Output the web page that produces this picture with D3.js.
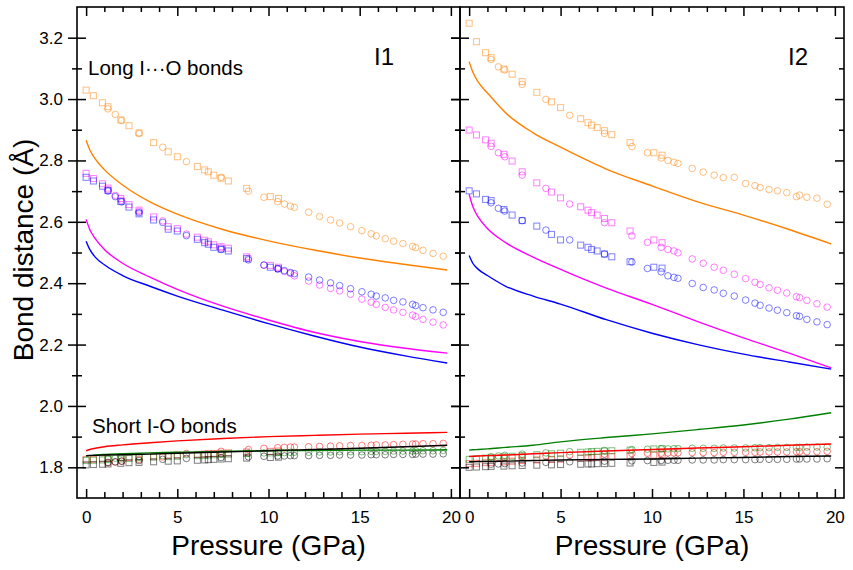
<!DOCTYPE html>
<html>
<head>
<meta charset="utf-8">
<script src="https://cdn.jsdelivr.net/npm/d3@7"></script>
<style>
  body { margin: 0; background: #fff; }
  svg { font-family: "Liberation Sans", Arial, sans-serif; }
</style>
</head>
<body>
<script>
// set dimensions
const width = 853
const height = 570
const plotTop = 7
const plotBottom = 498
const panelEdges = [77, 460, 844]

// pressures (GPa)
const pLine = [0, 0.2, 0.5, 1, 2, 3.5, 5, 7.5, 10, 12.5, 15, 17.5, 19.8]
const pSquares = [0, 0.4, 0.9, 1.2, 1.9, 2.35, 2.9, 3.7, 4.5, 5.0, 6.1, 6.5, 6.7, 7.0, 7.4, 7.8, 8.8, 10.1, 10.55]
const pCircles = [1.2, 1.6, 1.95, 2.9, 4.2, 5.5, 7.4, 8.9, 9.75, 10.5, 10.87, 11.2, 11.42, 12.2, 12.8, 13.4, 13.9, 14.5, 15.12, 15.63, 15.91, 16.4, 16.86, 17.37, 17.9, 18.07, 18.47, 19.02, 19.58]

const xTicks = [0, 5, 10, 15, 20]
const xMinor = [1, 2, 3, 4, 6, 7, 8, 9, 11, 12, 13, 14, 16, 17, 18, 19]
const yTicks = [1.8, 2.0, 2.2, 2.4, 2.6, 2.8, 3.0, 3.2]
const yMinor = [1.9, 2.1, 2.3, 2.5, 2.7, 2.9, 3.1]
const panelNames = ['I1', 'I2']

// ---- I1 : calculated curves
const i1LineOrange = [2.866, 2.835, 2.805, 2.77, 2.72, 2.665, 2.625, 2.575, 2.538, 2.508, 2.482, 2.461, 2.443]
const i1LineMagenta = [2.608, 2.575, 2.545, 2.51, 2.465, 2.42, 2.38, 2.325, 2.28, 2.24, 2.21, 2.188, 2.172]
const i1LineBlue = [2.537, 2.51, 2.485, 2.46, 2.425, 2.39, 2.358, 2.312, 2.268, 2.228, 2.192, 2.163, 2.14]
const i1LineRed = [1.854, 1.858, 1.862, 1.867, 1.873, 1.88, 1.886, 1.894, 1.9, 1.904, 1.908, 1.911, 1.914]
const i1LineGreen = [1.837, 1.838, 1.84, 1.842, 1.844, 1.847, 1.849, 1.852, 1.854, 1.855, 1.856, 1.856, 1.857]
const i1LineBlack = [1.838, 1.839, 1.839, 1.84, 1.841, 1.843, 1.846, 1.85, 1.854, 1.858, 1.862, 1.867, 1.872]

// ---- I1 : experiment, squares
const i1SqOrange = [3.029, 3.011, 2.988, 2.975, 2.932, 2.913, 2.89, 2.858, 2.828, 2.812, 2.78, 2.769, 2.763, 2.752, 2.742, 2.733, 2.709, 2.682, 2.676]
const i1SqMagenta = [2.758, 2.741, 2.724, 2.71, 2.676, 2.656, 2.638, 2.616, 2.584, 2.578, 2.55, 2.54, 2.535, 2.525, 2.519, 2.514, 2.486, 2.458, 2.452]
const i1SqBlue = [2.745, 2.733, 2.716, 2.702, 2.666, 2.648, 2.626, 2.606, 2.576, 2.57, 2.543, 2.532, 2.527, 2.517, 2.511, 2.505, 2.48, 2.452, 2.447]
const i1SqRed = [1.826, 1.826, 1.828, 1.829, 1.831, 1.832, 1.834, 1.836, 1.838, 1.84, 1.842, 1.843, 1.844, 1.845, 1.846, 1.847, 1.85, 1.852, 1.853]
const i1SqGreen = [1.822, 1.823, 1.824, 1.825, 1.827, 1.829, 1.831, 1.833, 1.835, 1.836, 1.838, 1.839, 1.84, 1.841, 1.842, 1.843, 1.845, 1.847, 1.848]
const i1SqBlack = [1.808, 1.809, 1.81, 1.811, 1.813, 1.815, 1.816, 1.818, 1.82, 1.821, 1.823, 1.824, 1.825, 1.826, 1.827, 1.828, 1.83, 1.832, 1.833]

// ---- I1 : experiment, circles
const i1CiOrange = [2.968, 2.95, 2.93, 2.888, 2.843, 2.796, 2.745, 2.7, 2.68, 2.666, 2.658, 2.651, 2.647, 2.631, 2.617, 2.606, 2.596, 2.584, 2.571, 2.561, 2.554, 2.545, 2.537, 2.529, 2.52, 2.516, 2.507, 2.497, 2.488]
const i1CiMagenta = [2.705, 2.686, 2.67, 2.634, 2.603, 2.56, 2.515, 2.481, 2.459, 2.447, 2.438, 2.432, 2.424, 2.407, 2.394, 2.383, 2.375, 2.364, 2.348, 2.338, 2.331, 2.321, 2.313, 2.305, 2.296, 2.291, 2.282, 2.273, 2.264]
const i1CiBlue = [2.7, 2.682, 2.665, 2.63, 2.598, 2.555, 2.51, 2.476, 2.459, 2.447, 2.441, 2.435, 2.431, 2.42, 2.41, 2.401, 2.392, 2.382, 2.372, 2.364, 2.358, 2.352, 2.344, 2.339, 2.331, 2.327, 2.32, 2.313, 2.305]
const i1CiRed = [1.815, 1.817, 1.82, 1.826, 1.834, 1.845, 1.852, 1.858, 1.862, 1.864, 1.865, 1.866, 1.866, 1.867, 1.868, 1.869, 1.87, 1.871, 1.871, 1.872, 1.873, 1.873, 1.874, 1.875, 1.876, 1.876, 1.877, 1.877, 1.878]
const i1CiGreen = [1.828, 1.83, 1.832, 1.835, 1.838, 1.841, 1.844, 1.846, 1.847, 1.848, 1.848, 1.849, 1.849, 1.849, 1.85, 1.85, 1.851, 1.851, 1.851, 1.852, 1.852, 1.852, 1.853, 1.853, 1.853, 1.854, 1.854, 1.854, 1.855]
const i1CiBlack = [1.816, 1.818, 1.82, 1.822, 1.826, 1.829, 1.832, 1.834, 1.836, 1.837, 1.837, 1.838, 1.838, 1.838, 1.839, 1.839, 1.84, 1.84, 1.84, 1.841, 1.841, 1.841, 1.842, 1.842, 1.842, 1.843, 1.843, 1.843, 1.844]

// ---- I2 : calculated curves
const i2LineOrange = [3.122, 3.088, 3.055, 3.02, 2.955, 2.89, 2.843, 2.772, 2.717, 2.665, 2.622, 2.575, 2.528]
const i2LineMagenta = [2.69, 2.65, 2.615, 2.578, 2.532, 2.485, 2.445, 2.384, 2.331, 2.275, 2.222, 2.172, 2.124]
const i2LineBlue = [2.49, 2.465, 2.445, 2.425, 2.39, 2.358, 2.332, 2.281, 2.237, 2.2, 2.169, 2.143, 2.12]
const i2LineRed = [1.835, 1.836, 1.837, 1.838, 1.84, 1.844, 1.848, 1.853, 1.858, 1.863, 1.867, 1.872, 1.876]
const i2LineGreen = [1.856, 1.857, 1.858, 1.86, 1.865, 1.872, 1.883, 1.897, 1.909, 1.923, 1.938, 1.957, 1.978]
const i2LineBlack = [1.818, 1.818, 1.819, 1.819, 1.82, 1.822, 1.824, 1.826, 1.827, 1.83, 1.832, 1.835, 1.837]

// ---- I2 : experiment, squares
const i2SqOrange = [3.247, 3.187, 3.151, 3.135, 3.098, 3.081, 3.057, 3.022, 2.991, 2.972, 2.936, 2.923, 2.915, 2.907, 2.897, 2.884, 2.858, 2.825, 2.817]
const i2SqMagenta = [2.899, 2.883, 2.867, 2.856, 2.82, 2.798, 2.763, 2.727, 2.697, 2.678, 2.649, 2.638, 2.63, 2.622, 2.611, 2.597, 2.57, 2.541, 2.532]
const i2SqBlue = [2.701, 2.691, 2.673, 2.669, 2.64, 2.622, 2.604, 2.586, 2.559, 2.541, 2.524, 2.517, 2.51, 2.505, 2.495, 2.486, 2.47, 2.452, 2.449]
const i2SqRed = [1.812, 1.813, 1.815, 1.816, 1.818, 1.82, 1.822, 1.824, 1.826, 1.827, 1.83, 1.831, 1.832, 1.833, 1.834, 1.835, 1.837, 1.84, 1.841]
const i2SqGreen = [1.826, 1.828, 1.83, 1.831, 1.834, 1.836, 1.838, 1.841, 1.844, 1.846, 1.849, 1.85, 1.851, 1.852, 1.853, 1.854, 1.856, 1.86, 1.861]
const i2SqBlack = [1.8, 1.801, 1.802, 1.803, 1.804, 1.805, 1.806, 1.807, 1.808, 1.809, 1.81, 1.811, 1.811, 1.812, 1.812, 1.813, 1.814, 1.816, 1.817]

// ---- I2 : experiment, circles
const i2CiOrange = [3.129, 3.105, 3.095, 3.048, 2.999, 2.947, 2.888, 2.845, 2.825, 2.808, 2.8, 2.794, 2.79, 2.774, 2.762, 2.752, 2.744, 2.745, 2.725, 2.718, 2.712, 2.705, 2.701, 2.695, 2.682, 2.687, 2.68, 2.677, 2.657]
const i2CiMagenta = [2.846, 2.825, 2.812, 2.752, 2.709, 2.658, 2.597, 2.554, 2.533, 2.517, 2.51, 2.505, 2.499, 2.479, 2.465, 2.452, 2.442, 2.429, 2.415, 2.403, 2.396, 2.385, 2.377, 2.368, 2.356, 2.353, 2.344, 2.333, 2.322]
const i2CiBlue = [2.662, 2.644, 2.635, 2.604, 2.573, 2.541, 2.495, 2.469, 2.448, 2.437, 2.424, 2.419, 2.416, 2.399, 2.386, 2.378, 2.367, 2.358, 2.345, 2.335, 2.328, 2.319, 2.312, 2.304, 2.294, 2.292, 2.282, 2.274, 2.265]
const i2CiRed = [1.828, 1.83, 1.831, 1.834, 1.837, 1.84, 1.843, 1.845, 1.846, 1.846, 1.847, 1.847, 1.847, 1.848, 1.848, 1.848, 1.849, 1.849, 1.849, 1.849, 1.85, 1.85, 1.85, 1.85, 1.851, 1.851, 1.851, 1.851, 1.852]
const i2CiGreen = [1.835, 1.837, 1.839, 1.843, 1.847, 1.851, 1.855, 1.858, 1.859, 1.86, 1.86, 1.861, 1.861, 1.862, 1.862, 1.862, 1.863, 1.863, 1.863, 1.864, 1.864, 1.864, 1.865, 1.865, 1.865, 1.865, 1.866, 1.866, 1.866]
const i2CiBlack = [1.81, 1.811, 1.812, 1.814, 1.816, 1.818, 1.82, 1.821, 1.822, 1.822, 1.823, 1.823, 1.823, 1.824, 1.824, 1.824, 1.825, 1.825, 1.825, 1.825, 1.826, 1.826, 1.826, 1.826, 1.827, 1.827, 1.827, 1.827, 1.828]

const colors = {
  orange: '#ff8000', magenta: '#ff00ff', blue: '#0000ff',
  red: '#ff0000', green: '#008000', black: '#000000'
}

const panels = [
  [
    {c: 'orange', line: i1LineOrange, sq: i1SqOrange, ci: i1CiOrange},
    {c: 'magenta', line: i1LineMagenta, sq: i1SqMagenta, ci: i1CiMagenta},
    {c: 'blue', line: i1LineBlue, sq: i1SqBlue, ci: i1CiBlue},
    {c: 'red', line: i1LineRed, sq: i1SqRed, ci: i1CiRed},
    {c: 'green', line: i1LineGreen, sq: i1SqGreen, ci: i1CiGreen},
    {c: 'black', line: i1LineBlack, sq: i1SqBlack, ci: i1CiBlack}
  ],
  [
    {c: 'orange', line: i2LineOrange, sq: i2SqOrange, ci: i2CiOrange},
    {c: 'magenta', line: i2LineMagenta, sq: i2SqMagenta, ci: i2CiMagenta},
    {c: 'blue', line: i2LineBlue, sq: i2SqBlue, ci: i2CiBlue},
    {c: 'red', line: i2LineRed, sq: i2SqRed, ci: i2CiRed},
    {c: 'green', line: i2LineGreen, sq: i2SqGreen, ci: i2CiGreen},
    {c: 'black', line: i2LineBlack, sq: i2SqBlack, ci: i2CiBlack}
  ]
]

const svg = d3.select('body').append('svg')
    .attr('width', width)
    .attr('height', height)

const y = d3.scaleLinear().domain([1.7, 3.3]).range([plotBottom, plotTop])

function styleAxis(g) {
  g.select('.domain').remove()
  g.selectAll('line').attr('stroke', '#000').attr('stroke-width', 1.5)
  g.selectAll('text').attr('fill', '#000').style('font-size', '17px')
}

panels.forEach((series, i) => {
  const x0 = panelEdges[i]
  const x1 = panelEdges[i + 1]
  const x = d3.scaleLinear().domain([-0.5, 20.5]).range([x0, x1])

  const g = svg.append('g')

  // markers
  series.forEach((s) => {
    g.append('g').selectAll('rect')
      .data(pSquares.map((p, k) => [p, s.sq[k]]))
      .join('rect')
        .attr('x', (d) => x(d[0]) - 3)
        .attr('y', (d) => y(d[1]) - 3)
        .attr('width', 6)
        .attr('height', 6)
        .attr('fill', 'none')
        .attr('stroke', colors[s.c])
        .attr('stroke-opacity', 0.5)
        .attr('stroke-width', 1)

    g.append('g').selectAll('circle')
      .data(pCircles.map((p, k) => [p, s.ci[k]]))
      .join('circle')
        .attr('cx', (d) => x(d[0]))
        .attr('cy', (d) => y(d[1]))
        .attr('r', 3.3)
        .attr('fill', 'none')
        .attr('stroke', colors[s.c])
        .attr('stroke-opacity', 0.5)
        .attr('stroke-width', 1)
  })

  // calculated lines
  const valueline = d3.line()
    .x((d) => x(d[0]))
    .y((d) => y(d[1]))
    .curve(d3.curveMonotoneX)

  series.forEach((s) => {
    g.append('path')
      .datum(pLine.map((p, k) => [p, s.line[k]]))
      .attr('d', valueline)
      .attr('fill', 'none')
      .attr('stroke', colors[s.c])
      .attr('stroke-width', 1.4)
  })

  // axes, ticks point inward
  g.append('g')
    .attr('transform', `translate(0, ${plotBottom})`)
    .call(d3.axisBottom(x).tickValues(xTicks).tickSize(-9).tickPadding(13))
    .call(styleAxis)
  g.append('g')
    .attr('transform', `translate(0, ${plotBottom})`)
    .call(d3.axisBottom(x).tickValues(xMinor).tickSize(-6).tickFormat(''))
    .call(styleAxis)
  g.append('g')
    .attr('transform', `translate(0, ${plotTop})`)
    .call(d3.axisTop(x).tickValues(xTicks).tickSize(-9).tickFormat(''))
    .call(styleAxis)
  g.append('g')
    .attr('transform', `translate(0, ${plotTop})`)
    .call(d3.axisTop(x).tickValues(xMinor).tickSize(-5).tickFormat(''))
    .call(styleAxis)

  // left axis: ticks in & out
  const left = g.append('g').attr('transform', `translate(${x0}, 0)`)
  left.append('g')
    .call(d3.axisLeft(y).tickValues(yTicks).tickSize(9).tickPadding(5)
      .tickFormat(i === 0 ? d3.format('.1f') : ''))
    .call(styleAxis)
  left.append('g')
    .call(d3.axisLeft(y).tickValues(yTicks).tickSize(-9).tickFormat(''))
    .call(styleAxis)
  left.append('g')
    .call(d3.axisLeft(y).tickValues(yMinor).tickSize(5).tickFormat(''))
    .call(styleAxis)
  left.append('g')
    .call(d3.axisLeft(y).tickValues(yMinor).tickSize(-5).tickFormat(''))
    .call(styleAxis)

  // right axis: inward only
  const right = g.append('g').attr('transform', `translate(${x1}, 0)`)
  right.append('g')
    .call(d3.axisRight(y).tickValues(yTicks).tickSize(-9).tickFormat(''))
    .call(styleAxis)
  right.append('g')
    .call(d3.axisRight(y).tickValues(yMinor).tickSize(-5).tickFormat(''))
    .call(styleAxis)

  // frame
  g.append('rect')
    .attr('x', x0)
    .attr('y', plotTop)
    .attr('width', x1 - x0)
    .attr('height', plotBottom - plotTop)
    .attr('fill', 'none')
    .attr('stroke', '#000')
    .attr('stroke-width', 1.6)

  g.append('text')
    .attr('x', (x0 + x1) / 2)
    .attr('y', 555)
    .attr('text-anchor', 'middle')
    .style('font-size', '28px')
    .text('Pressure (GPa)')

  g.append('text')
    .attr('x', i === 0 ? 384 : 798)
    .attr('y', 65)
    .attr('text-anchor', 'middle')
    .style('font-size', '24px')
    .text(panelNames[i])
})

svg.append('text')
  .attr('transform', 'translate(33, 250) rotate(-90)')
  .attr('text-anchor', 'middle')
  .style('font-size', '28px')
  .text('Bond distance (Å)')

svg.append('text')
  .attr('x', 88)
  .attr('y', 75)
  .style('font-size', '20.5px')
  .text('Long I···O bonds')

svg.append('text')
  .attr('x', 92)
  .attr('y', 433)
  .style('font-size', '20.5px')
  .text('Short I-O bonds')
</script>
</body>
</html>
